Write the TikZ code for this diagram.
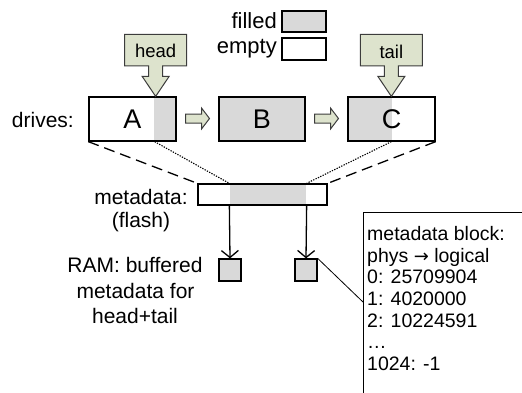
\documentclass[tikz,border=0pt]{standalone}
\usepackage{fontspec}
\setmainfont{Liberation Sans}
\newfontfamily\arrowfont{DejaVu Sans}
\usetikzlibrary{arrows.meta,calc}
\definecolor{fillc}{RGB}{217,217,217}
\definecolor{greenc}{RGB}{221,227,205}
\definecolor{edgec}{RGB}{60,60,60}
\begin{document}
\begin{tikzpicture}[x=1pt,y=-1pt,
  drivebox/.style={draw=black, line width=1.3pt, minimum width=87pt, minimum height=44pt, inner sep=0pt, font=\fontsize{27}{30}\selectfont},
  smallbox/.style={draw=black, line width=1.3pt, fill=fillc, minimum width=22pt, minimum height=22pt, inner sep=0pt},
  legbox/.style={draw=black, line width=1.2pt, minimum width=44pt, minimum height=21pt, inner sep=0pt},
  lbl/.style={anchor=base, inner sep=0pt, font=\fontsize{21}{25}\selectfont},
  leglbl/.style={anchor=base east, inner sep=0pt, font=\fontsize{22}{26}\selectfont},
  ptrlbl/.style={anchor=base, inner sep=0pt, font=\fontsize{18.5}{22}\selectfont},
  blktext/.style={anchor=base west, inner sep=0pt, font=\fontsize{19.5}{22}\selectfont},
  greenshape/.style={fill=greenc, draw=edgec, line width=1pt, line join=miter},
  dashline/.style={line width=1.3pt, dash pattern=on 11pt off 6pt},
  dotline/.style={line width=1.1pt, dash pattern=on 1.3pt off 1.3pt},
  downarrow/.style={line width=1.3pt, -{Straight Barb[length=7pt,width=17pt,line width=1.3pt]}},
  pointerpic/.pic={\draw[greenshape] (-31,-62) -- (31,-62) -- (31,-30.5) -- (7,-30.5) -- (7,-20) -- (13.5,-20) -- (0,0) -- (-13.5,-20) -- (-7,-20) -- (-7,-30.5) -- (-31,-30.5) -- cycle;},
  blockarrowpic/.pic={\draw[greenshape] (-12,-4.5) -- (4,-4.5) -- (4,-10.5) -- (12,0) -- (4,10.5) -- (4,4.5) -- (-12,4.5) -- cycle;}
]
\useasboundingbox (0,0) rectangle (522,392);
\clip (0,0) rectangle (522,392);

% legend
\node[legbox, fill=fillc] (lf) at (304,21.5) {};
\node[legbox, minimum height=22pt] (le) at (304,49) {};
\node[leglbl] (lft) at (277,28.3) {filled};
\node[leglbl] (let) at (277,53.3) {empty};

% drives
\node[drivebox, path picture={\fill[fillc] ([xshift=-22pt]path picture bounding box.north east) rectangle (path picture bounding box.south east);}] (A) at (132.5,119) {A};
\node[drivebox, fill=fillc, minimum width=86pt] (B) at (262,119) {B};
\node[drivebox, path picture={\fill[fillc] (path picture bounding box.north west) rectangle ([xshift=44pt]path picture bounding box.south west);}] (C) at (391.5,119) {C};
\node[lbl, anchor=base east] (drv) at (74,127) {drives:};

% pointers
\pic at ([xshift=-21pt]A.north east) {pointerpic};
\node[ptrlbl] (headlbl) at ([xshift=-21pt]A.north east |- 0,57) {head};
\pic at ([xshift=44pt]C.north west) {pointerpic};
\node[ptrlbl] (taillbl) at ([xshift=44pt]C.north west |- 0,58) {tail};

% block arrows
\pic at ($(A.east)!0.5!(B.west)+(0,-0.5)$) {blockarrowpic};
\pic at ($(B.east)!0.5!(C.west)+(0,-0.5)$) {blockarrowpic};

% metadata flash
\node[draw=black, line width=1.3pt, minimum width=129pt, minimum height=21pt, inner sep=0pt,
  path picture={\fill[fillc] ([xshift=32pt]path picture bounding box.north west) rectangle ([xshift=-21pt]path picture bounding box.south east);}] (meta) at (262.5,194.5) {};
\node[lbl] (metalbl) at (141,204) {metadata:};
\node[lbl] (flashlbl) at (141,227) {(flash)};

\coordinate (Ag) at ([xshift=-22pt]A.south east);
\coordinate (Cg) at ([xshift=44pt]C.south west);
\coordinate (m1t) at ([xshift=32pt]meta.north west);
\coordinate (m2t) at ([xshift=-21pt]meta.north east);
\coordinate (m1b) at ([xshift=32pt]meta.south west);
\coordinate (m2b) at ([xshift=-21pt]meta.south east);

\draw[dashline] (A.south west) -- (meta.north west);
\draw[dashline] (C.south east) -- (meta.north east);
\draw[dotline] (Ag) -- (m1t);
\draw[dotline] (Cg) -- (m2t);

% RAM buffers
\node[smallbox] (r1) at (230,270) {};
\node[smallbox] (r2) at (306,270) {};
\draw[downarrow] (m1b) -- (r1.north);
\draw[downarrow] (m2b) -- (r2.north);
\node[lbl] (ram1) at (135,272.5) {RAM: buffered};
\node[lbl] (ram2) at (135.5,298) {metadata for};
\node[lbl] (ram3) at (135,323.5) {head+tail};

% metadata block callout
\node[draw=black, line width=0.9pt, anchor=north west, minimum width=200pt, minimum height=220pt, inner sep=0pt] (blk) at (363,212) {};
\coordinate (bk) at ([yshift=-90pt]blk.north west);
\draw[line width=0.8pt] (r2.north east) -- (bk);
\node[blktext] (t1) at (367,240.5) {metadata block:};
\node[blktext] (t2) at (367,262.2) {phys {\arrowfont\fontsize{18}{22}\selectfont →} logical};
\node[blktext] (t3) at (367,283.8) {0: 25709904};
\node[blktext] (t4) at (367,305.4) {1: 4020000};
\node[blktext] (t5) at (367,327) {2: 10224591};
\node[blktext] (t6) at (367,348.6) {…};
\node[blktext] (t7) at (367,370.2) {1024: -1};
\end{tikzpicture}
\end{document}
